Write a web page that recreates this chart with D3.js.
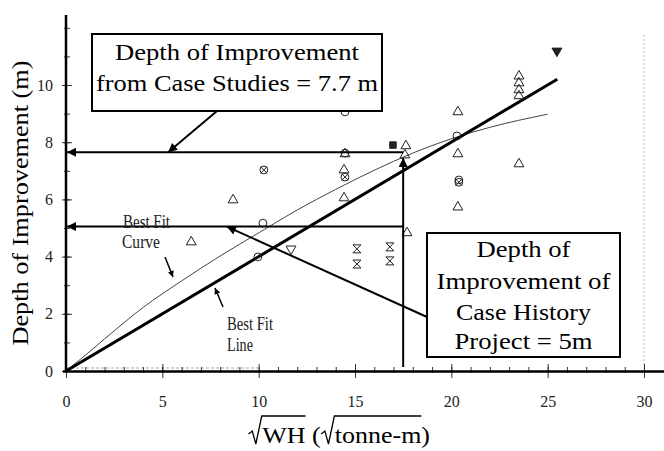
<!DOCTYPE html>
<html>
<head>
<meta charset="utf-8">
<script src="https://cdn.jsdelivr.net/npm/d3@7"></script>
<style>
body{margin:0;background:#fff;}
text{font-family:"Liberation Serif","Times New Roman",Times,serif;}
</style>
</head>
<body>
<svg id="chart" width="664" height="451"></svg>
<script>
// values
var bestFitLine=[[0,0],[25.5,10.2]];
var bestFitCurve=[[0,0],[1,0.55],[2,1.12],[4,2.22],[6,3.15],[8,4.02],[10,4.83],[12,5.63],[14,6.35],[16,7.02],[18,7.62],[20,8.12],[22,8.52],[25,8.98]];
var triUp=[[6.5,4.51],[8.67,5.98],[14.43,7.03],[14.43,6.05],[14.48,7.59],[17.64,7.87],[17.59,7.55],[17.7,4.83],
  [20.34,9.06],[20.34,7.59],[20.34,5.73],[23.51,7.24],[23.51,10.31],[23.51,10.07],[23.51,9.83],[23.51,9.62]];
var circles=[[9.96,3.99],[10.22,5.17],[14.48,9.06],[14.48,7.62],[20.29,8.22],[20.39,6.68]];
var crossCircles=[[10.27,7.03],[14.48,6.78],[20.39,6.6]];
var triDown=[[11.68,4.27]];
var triDownFilled=[[25.48,11.19]];
var hourglass=[[15.1,4.27],[15.1,3.74],[16.81,4.34],[16.81,3.85]];
var squares=[[16.97,7.9]];
var caseStudyDepth=7.65;  // "7.7 m" line
var projectDepth=5.05;    // "5m" line
var projectX=17.5;        // sqrt(WH) of the case history project
var xTicks=[0,5,10,15,20,25,30];
var yTicks=[0,2,4,6,8,10];

var svg=d3.select("#chart");
var x=d3.scaleLinear().domain([0,30]).range([66,644]);
var y=d3.scaleLinear().domain([0,10]).range([371,85]);
var serif="\"Liberation Serif\",\"Times New Roman\",Times,serif";

// arrow heads
var defs=svg.append("defs");
function marker(id,w,h){
	defs.append("marker")
	.attr("id",id)
	.attr("viewBox","0 0 10 10")
	.attr("refX",10).attr("refY",5)
	.attr("markerWidth",w).attr("markerHeight",h)
	.attr("markerUnits","userSpaceOnUse")
	.attr("orient","auto")
	.append("path")
	.attr("d","M0,0L10,5L0,10z")
	.attr("fill","#000");
}
marker("big",12,9);
marker("small",7,6);

// faint scan lines
svg.append("line")
.attr("x1",x(30)).attr("x2",x(30)).attr("y1",35).attr("y2",y(0))
.attr("stroke","#bbb").attr("stroke-dasharray","2,2");
svg.append("line")
.attr("x1",x(0)).attr("x2",x(10)).attr("y1",y(0)-3).attr("y2",y(0)-3)
.attr("stroke","#aaa").attr("stroke-dasharray","3,2");

// x axis ticks
svg.append("g").attr("transform","translate(0,"+(y(0)+2)+")")
.call(d3.axisTop(x).tickValues(d3.range(0,31)).tickSize(6).tickFormat(""));
svg.append("g").attr("transform","translate(0,"+(y(0)+7)+")")
.call(d3.axisTop(x).tickValues(xTicks).tickSize(14).tickFormat(""));
var gx3=svg.append("g").attr("transform","translate(0,"+y(0)+")")
.call(d3.axisBottom(x).tickValues(xTicks).tickSize(0));
gx3.selectAll("text").attr("y",36).attr("dy",0);

// y axis ticks
svg.append("g").attr("transform","translate(70,0)")
.call(d3.axisLeft(y).tickValues(d3.range(0,13)).tickSize(6).tickFormat(""));
svg.append("g").attr("transform","translate(72,0)")
.call(d3.axisLeft(y).tickValues(yTicks).tickSize(10).tickFormat(""));
var gy3=svg.append("g").attr("transform","translate(66,0)")
.call(d3.axisLeft(y).tickValues(yTicks).tickSize(0));
gy3.selectAll("text").attr("x",-13);

svg.selectAll(".domain").remove();
svg.selectAll("g").attr("font-family",serif).attr("font-size",16);
svg.selectAll(".tick line").attr("stroke","#333").attr("stroke-width",1);
svg.selectAll(".tick text").attr("fill","#222");

// axis lines
svg.append("line")
.attr("x1",63).attr("x2",664).attr("y1",y(0)+0.5).attr("y2",y(0)+0.5)
.attr("stroke","#000").attr("stroke-width",2.5);
svg.append("line")
.attr("x1",x(0)).attr("x2",x(0)).attr("y1",y(0)+1).attr("y2",y(12.45))
.attr("stroke","#000").attr("stroke-width",2.5);

// best fit curve and line
var line=d3.line().x(function(d){return x(d[0]);}).y(function(d){return y(d[1]);});
svg.append("path")
.datum(bestFitCurve)
.attr("d",line.curve(d3.curveMonotoneX))
.attr("fill","none").attr("stroke","#444").attr("stroke-width",1);
svg.append("path")
.datum(bestFitLine)
.attr("d",d3.line().x(function(d){return x(d[0]);}).y(function(d){return y(d[1]);}))
.attr("fill","none").attr("stroke","#000").attr("stroke-width",3);

// data points
var pts=svg.append("g");
function symbols(data,type,size,rot,fill){
	pts.selectAll(null)
	.data(data)
	.enter()
	.append("path")
	.attr("d",d3.symbol().type(type).size(size))
	.attr("transform",function(d){return "translate("+x(d[0])+","+y(d[1])+") rotate("+rot+")";})
	.attr("fill",fill)
	.attr("stroke","#222")
	.attr("stroke-width",1);
}
symbols(triUp,d3.symbolTriangle,42,0,"none");
symbols(circles,d3.symbolCircle,48,0,"none");
symbols(crossCircles,d3.symbolCircle,48,0,"none");
symbols(crossCircles,d3.symbolX,30,0,"none");
symbols(triDown,d3.symbolTriangle,42,180,"none");
symbols(triDownFilled,d3.symbolTriangle,42,180,"#222");
symbols(squares,d3.symbolSquare,42,0,"#222");
pts.selectAll(null)
.data(hourglass)
.enter()
.append("path")
.attr("d","M-4,-4L4,-4L-4,4L4,4Z")
.attr("transform",function(d){return "translate("+x(d[0])+","+y(d[1])+")";})
.attr("fill","none").attr("stroke","#222").attr("stroke-width",1);

// annotation arrows
function arrow(x1,y1,x2,y2,w,m){
	svg.append("line")
	.attr("x1",x1).attr("y1",y1).attr("x2",x2).attr("y2",y2)
	.attr("stroke","#000").attr("stroke-width",w)
	.attr("marker-end","url(#"+m+")");
}
arrow(x(projectX),y(caseStudyDepth),x(0)+1,y(caseStudyDepth),2,"big");
arrow(x(projectX),y(projectDepth),x(0)+1,y(projectDepth),2,"big");
arrow(x(projectX),y(0)-4,x(projectX),y(7.45),2,"big");
arrow(217,111,x(5.3),y(caseStudyDepth),2,"big");
arrow(427,317,x(8.35),y(projectDepth),2,"big");
arrow(165,257,173,277,1.5,"small");
arrow(223,307,215,288,1.5,"small");

// small labels
function label(t,xx,yy,w,fs){
	svg.append("text")
	.attr("x",xx).attr("y",yy)
	.attr("textLength",w).attr("lengthAdjust","spacingAndGlyphs")
	.style("font-size",fs+"px")
	.attr("fill","#222")
	.text(t);
}
label("Best Fit",123,228,47,18);
label("Curve",122,248,38,18);
label("Best Fit",227,330,46,18);
label("Line",227,351,26,18);

// text boxes
function box(x0,y0,w,h,lines){
	svg.append("rect")
	.attr("x",x0).attr("y",y0).attr("width",w).attr("height",h)
	.attr("fill","#fff").attr("stroke","#000").attr("stroke-width",2);
	lines.forEach(function(l){
		svg.append("text")
		.attr("x",x0+w/2).attr("y",l[1])
		.attr("text-anchor","middle")
		.attr("textLength",l[2]).attr("lengthAdjust","spacingAndGlyphs")
		.style("font-size","23px")
		.text(l[0]);
	});
}
box(92,34,290,77,[["Depth of Improvement",60,244],["from Case Studies = 7.7 m",91,282]]);
box(427,233,193,124,[["Depth of",257,94],["Improvement of",288.5,174],["Case History",320,135],["Project = 5m",349,138]]);

// axis titles
svg.append("text")
.attr("transform","translate(28,203) rotate(-90)")
.attr("text-anchor","middle")
.attr("textLength",285).attr("lengthAdjust","spacingAndGlyphs")
.style("font-size","24px")
.text("Depth of Improvement (m)");

// x title: radical signs drawn as paths over invisible glyphs
var xt=svg.append("text")
.attr("x",248).attr("y",443)
.attr("textLength",182).attr("lengthAdjust","spacingAndGlyphs")
.style("font-size","24px");
xt.append("tspan").attr("fill-opacity",0).text("\u221A");
xt.append("tspan").text("WH (");
xt.append("tspan").attr("fill-opacity",0).text("\u221A");
xt.append("tspan").text("tonne-m)");
var node=xt.node();
function radical(a,b){
	var s=node.getStartPositionOfChar(a).x;
	var e=node.getEndPositionOfChar(a).x;
	var f=node.getEndPositionOfChar(b).x;
	var w=e-s;
	svg.append("path")
	.attr("d","M"+(s+0.5)+",434 L"+(s+w*0.3)+",431 L"+(s+w*0.55)+",444 L"+(e-0.5)+",416 L"+f+",416")
	.attr("fill","none").attr("stroke","#000").attr("stroke-width",1.3);
}
radical(0,2);
radical(5,12);
</script>
</body>
</html>
